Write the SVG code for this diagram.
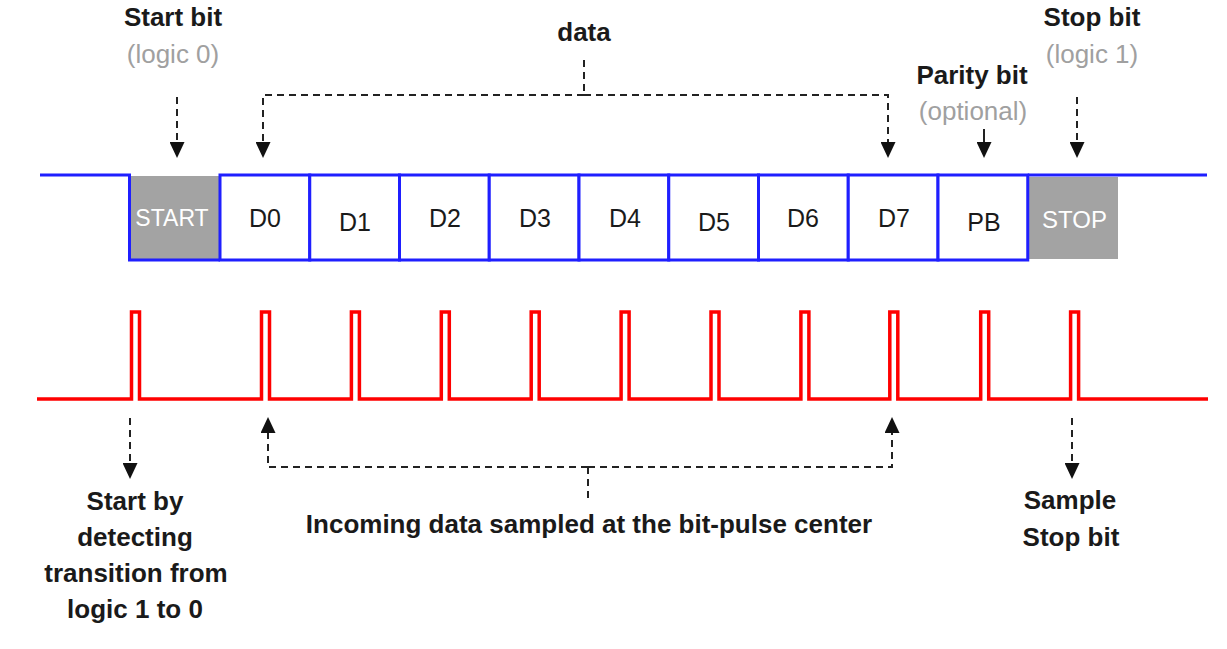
<svg xmlns="http://www.w3.org/2000/svg" width="1227" height="649" viewBox="0 0 1227 649">
<style>
  .lbl{font-family:"Liberation Sans",Arial,sans-serif;font-size:26px;font-weight:bold;fill:#1a1a1a;text-anchor:middle}
  .sub{font-family:"Liberation Sans",Arial,sans-serif;font-size:26px;fill:#a0a0a0;text-anchor:middle}
  .cell{fill:#ffffff;stroke:#1f1fff;stroke-width:3}
  .ctxt{font-family:"Liberation Sans",Arial,sans-serif;font-size:25px;fill:#1a1a1a;text-anchor:middle}
  .gbox{fill:#a3a3a3}
  .gtxt{font-family:"Liberation Sans",Arial,sans-serif;font-size:23px;fill:#ffffff;text-anchor:middle}
  .sig{fill:none;stroke:#1f1fff;stroke-width:3}
  .pulse{fill:none;stroke:#ff0000;stroke-width:3.5;stroke-linejoin:miter}
  .dash{fill:none;stroke:#222;stroke-width:2;stroke-dasharray:7 5}
  .solid{fill:none;stroke:#222;stroke-width:2}
</style>
<defs>
  <marker id="ah" markerUnits="userSpaceOnUse" markerWidth="17" markerHeight="15" refX="0" refY="7.5" orient="auto" viewBox="0 0 17 15">
    <path d="M0,0 L16,7.5 L0,15 z" fill="#111"/>
  </marker>
</defs>
<rect width="1227" height="649" fill="#ffffff"/>

<!-- Top labels -->
<g id="label-start-bit">
  <text class="lbl" x="173" y="26">Start bit</text>
  <text class="sub" x="173" y="63">(logic 0)</text>
</g>
<g id="label-data">
  <text class="lbl" x="584" y="41">data</text>
</g>
<g id="label-parity-bit">
  <text class="lbl" x="972" y="84">Parity bit</text>
  <text class="sub" x="973" y="120">(optional)</text>
</g>
<g id="label-stop-bit">
  <text class="lbl" x="1092" y="26">Stop bit</text>
  <text class="sub" x="1092" y="63">(logic 1)</text>
</g>

<!-- Frame cells -->
<g id="cell-start">
  <rect class="gbox" x="130" y="176" width="89" height="83"/>
  <text class="gtxt" x="172" y="226">START</text>
</g>
<g id="cell-stop">
  <rect class="gbox" x="1029" y="177" width="89" height="82"/>
  <text class="gtxt" x="1074.5" y="228" style="font-size:24px">STOP</text>
</g>
<g id="cell-d0"><rect class="cell" x="220" y="175" width="89.75" height="85"/><text class="ctxt" x="265" y="227">D0</text></g>
<g id="cell-d1"><rect class="cell" x="309.75" y="175" width="89.75" height="85"/><text class="ctxt" x="355" y="231">D1</text></g>
<g id="cell-d2"><rect class="cell" x="399.5" y="175" width="89.75" height="85"/><text class="ctxt" x="445" y="227">D2</text></g>
<g id="cell-d3"><rect class="cell" x="489.25" y="175" width="89.75" height="85"/><text class="ctxt" x="535" y="227">D3</text></g>
<g id="cell-d4"><rect class="cell" x="579" y="175" width="89.75" height="85"/><text class="ctxt" x="625" y="227">D4</text></g>
<g id="cell-d5"><rect class="cell" x="668.75" y="175" width="89.75" height="85"/><text class="ctxt" x="714" y="231">D5</text></g>
<g id="cell-d6"><rect class="cell" x="758.5" y="175" width="89.75" height="85"/><text class="ctxt" x="803" y="227">D6</text></g>
<g id="cell-d7"><rect class="cell" x="848.25" y="175" width="89.75" height="85"/><text class="ctxt" x="894" y="227">D7</text></g>
<g id="cell-pb"><rect class="cell" x="938" y="175" width="89.75" height="85"/><text class="ctxt" x="984" y="231">PB</text></g>

<!-- Blue signal lines -->
<g id="signal">
  <path class="sig" d="M40,175 H129.5 V260 H220"/>
  <path class="sig" d="M1027.75,175 H1207"/>
</g>

<!-- Red sampling pulses -->
<g id="pulses">
  <path class="pulse" d="M37,399 H131.5 V312 H139.5 V399
    H261.5 V312 H269.5 V399
    H351.4 V312 H359.4 V399
    H441.3 V312 H449.3 V399
    H531.2 V312 H539.2 V399
    H621.1 V312 H629.1 V399
    H711 V312 H719 V399
    H800.9 V312 H808.9 V399
    H889.8 V312 H897.8 V399
    H980.7 V312 H988.7 V399
    H1070.6 V312 H1078.6 V399 H1208"/>
</g>

<!-- Connectors -->
<g id="connectors">
  <path class="dash" d="M177,97 V142" marker-end="url(#ah)"/>
  <path class="dash" d="M584,60 V95"/>
  <path class="dash" d="M584,95 H263 V142" marker-end="url(#ah)"/>
  <path class="dash" d="M584,95 H888 V142" marker-end="url(#ah)"/>
  <path class="solid" d="M984,129 V142" marker-end="url(#ah)"/>
  <path class="dash" d="M1077,97 V142" marker-end="url(#ah)"/>

  <path class="dash" d="M130,418 V463" marker-end="url(#ah)"/>
  <path class="dash" d="M588,467 H268 V433" marker-end="url(#ah)"/>
  <path class="dash" d="M588,467 H892 V433" marker-end="url(#ah)"/>
  <path class="dash" d="M588,467 V498"/>
  <path class="dash" d="M1072,418 V463" marker-end="url(#ah)"/>
</g>

<!-- Bottom labels -->
<g id="label-start-detect">
  <text class="lbl" x="135" y="510">Start by</text>
  <text class="lbl" x="135" y="546">detecting</text>
  <text class="lbl" x="136" y="582">transition from</text>
  <text class="lbl" x="135" y="618">logic 1 to 0</text>
</g>
<g id="label-incoming">
  <text class="lbl" x="589" y="533">Incoming data sampled at the bit-pulse center</text>
</g>
<g id="label-sample-stop">
  <text class="lbl" x="1070" y="509">Sample</text>
  <text class="lbl" x="1071" y="546">Stop bit</text>
</g>
</svg>
